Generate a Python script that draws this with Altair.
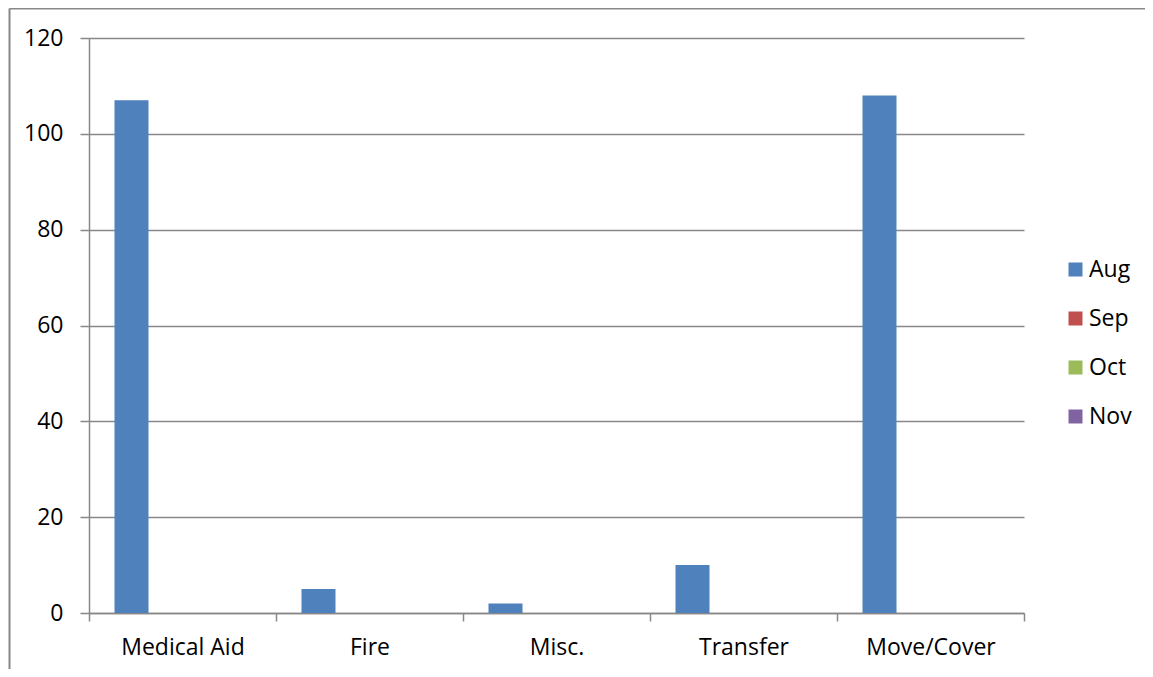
import altair as alt
import pandas as pd

categories = ["Medical Aid", "Fire", "Misc.", "Transfer", "Move/Cover"]
series = ["Aug", "Sep", "Oct", "Nov"]
aug = [107, 5, 2, 10, 108]
sep = [None, None, None, None, None]
oct_ = [None, None, None, None, None]
nov = [None, None, None, None, None]
colors = ["#4F81BD", "#C0504D", "#9BBB59", "#8064A2"]
y_ticks = [0, 20, 40, 60, 80, 100, 120]

rows = []
for s, vals in zip(series, [aug, sep, oct_, nov]):
    for c, v in zip(categories, vals):
        rows.append({"category": c, "series": s, "value": v})
df = pd.DataFrame(rows)

FONT = "Open Sans"
FS = 23
GRAY = "#888888"

bars = alt.Chart(df).mark_bar(size=34).encode(
    x=alt.X("category:N", sort=categories, title=None,
            scale=alt.Scale(paddingInner=0, paddingOuter=0),
            axis=alt.Axis(labelAngle=0, labelFontSize=FS, labelFont=FONT, labelColor="#000000",
                          domainColor=GRAY, domainWidth=1.5, tickColor=GRAY, tickWidth=1.5,
                          tickSize=8, tickBand="extent", labelPadding=15, grid=False)),
    xOffset=alt.XOffset("series:N", sort=series,
                        scale=alt.Scale(domain=series, paddingInner=0, paddingOuter=0.75)),
    y=alt.Y("value:Q", title=None,
            scale=alt.Scale(domain=[0, 120], nice=False),
            axis=alt.Axis(values=y_ticks, labelFontSize=FS, labelFont=FONT, labelColor="#000000",
                          domainColor=GRAY, domainWidth=1.5, tickColor=GRAY, tickWidth=1.5,
                          tickSize=9, labelPadding=17, grid=True, gridColor=GRAY, gridWidth=1.5)),
    color=alt.Color("series:N", sort=series,
                    scale=alt.Scale(domain=series, range=colors),
                    legend=alt.Legend(title=None, orient="none", legendX=975, legendY=220,
                                      labelFontSize=FS, labelFont=FONT, labelColor="#000000",
                                      symbolType="square", symbolSize=196, symbolStrokeWidth=0,
                                      symbolOpacity=1, rowPadding=25, labelOffset=2)),
)

one = pd.DataFrame({"a": [0]})
border_left = alt.Chart(one).mark_rule(color=GRAY, strokeWidth=2).encode(
    x=alt.value(-79.5), y=alt.value(-29.5), y2=alt.value(700))
border_top = alt.Chart(one).mark_rule(color=GRAY, strokeWidth=2).encode(
    x=alt.value(-79.5), x2=alt.value(1200), y=alt.value(-29.5))

chart = alt.layer(bars, border_left, border_top).properties(
    width=935, height=575,
    autosize=alt.AutoSizeParams(type="none"),
    padding={"left": 81, "top": 30, "right": 121, "bottom": 56},
).configure_view(stroke=None)

chart.save("out.html", embed_options={"renderer": "svg", "actions": False})
